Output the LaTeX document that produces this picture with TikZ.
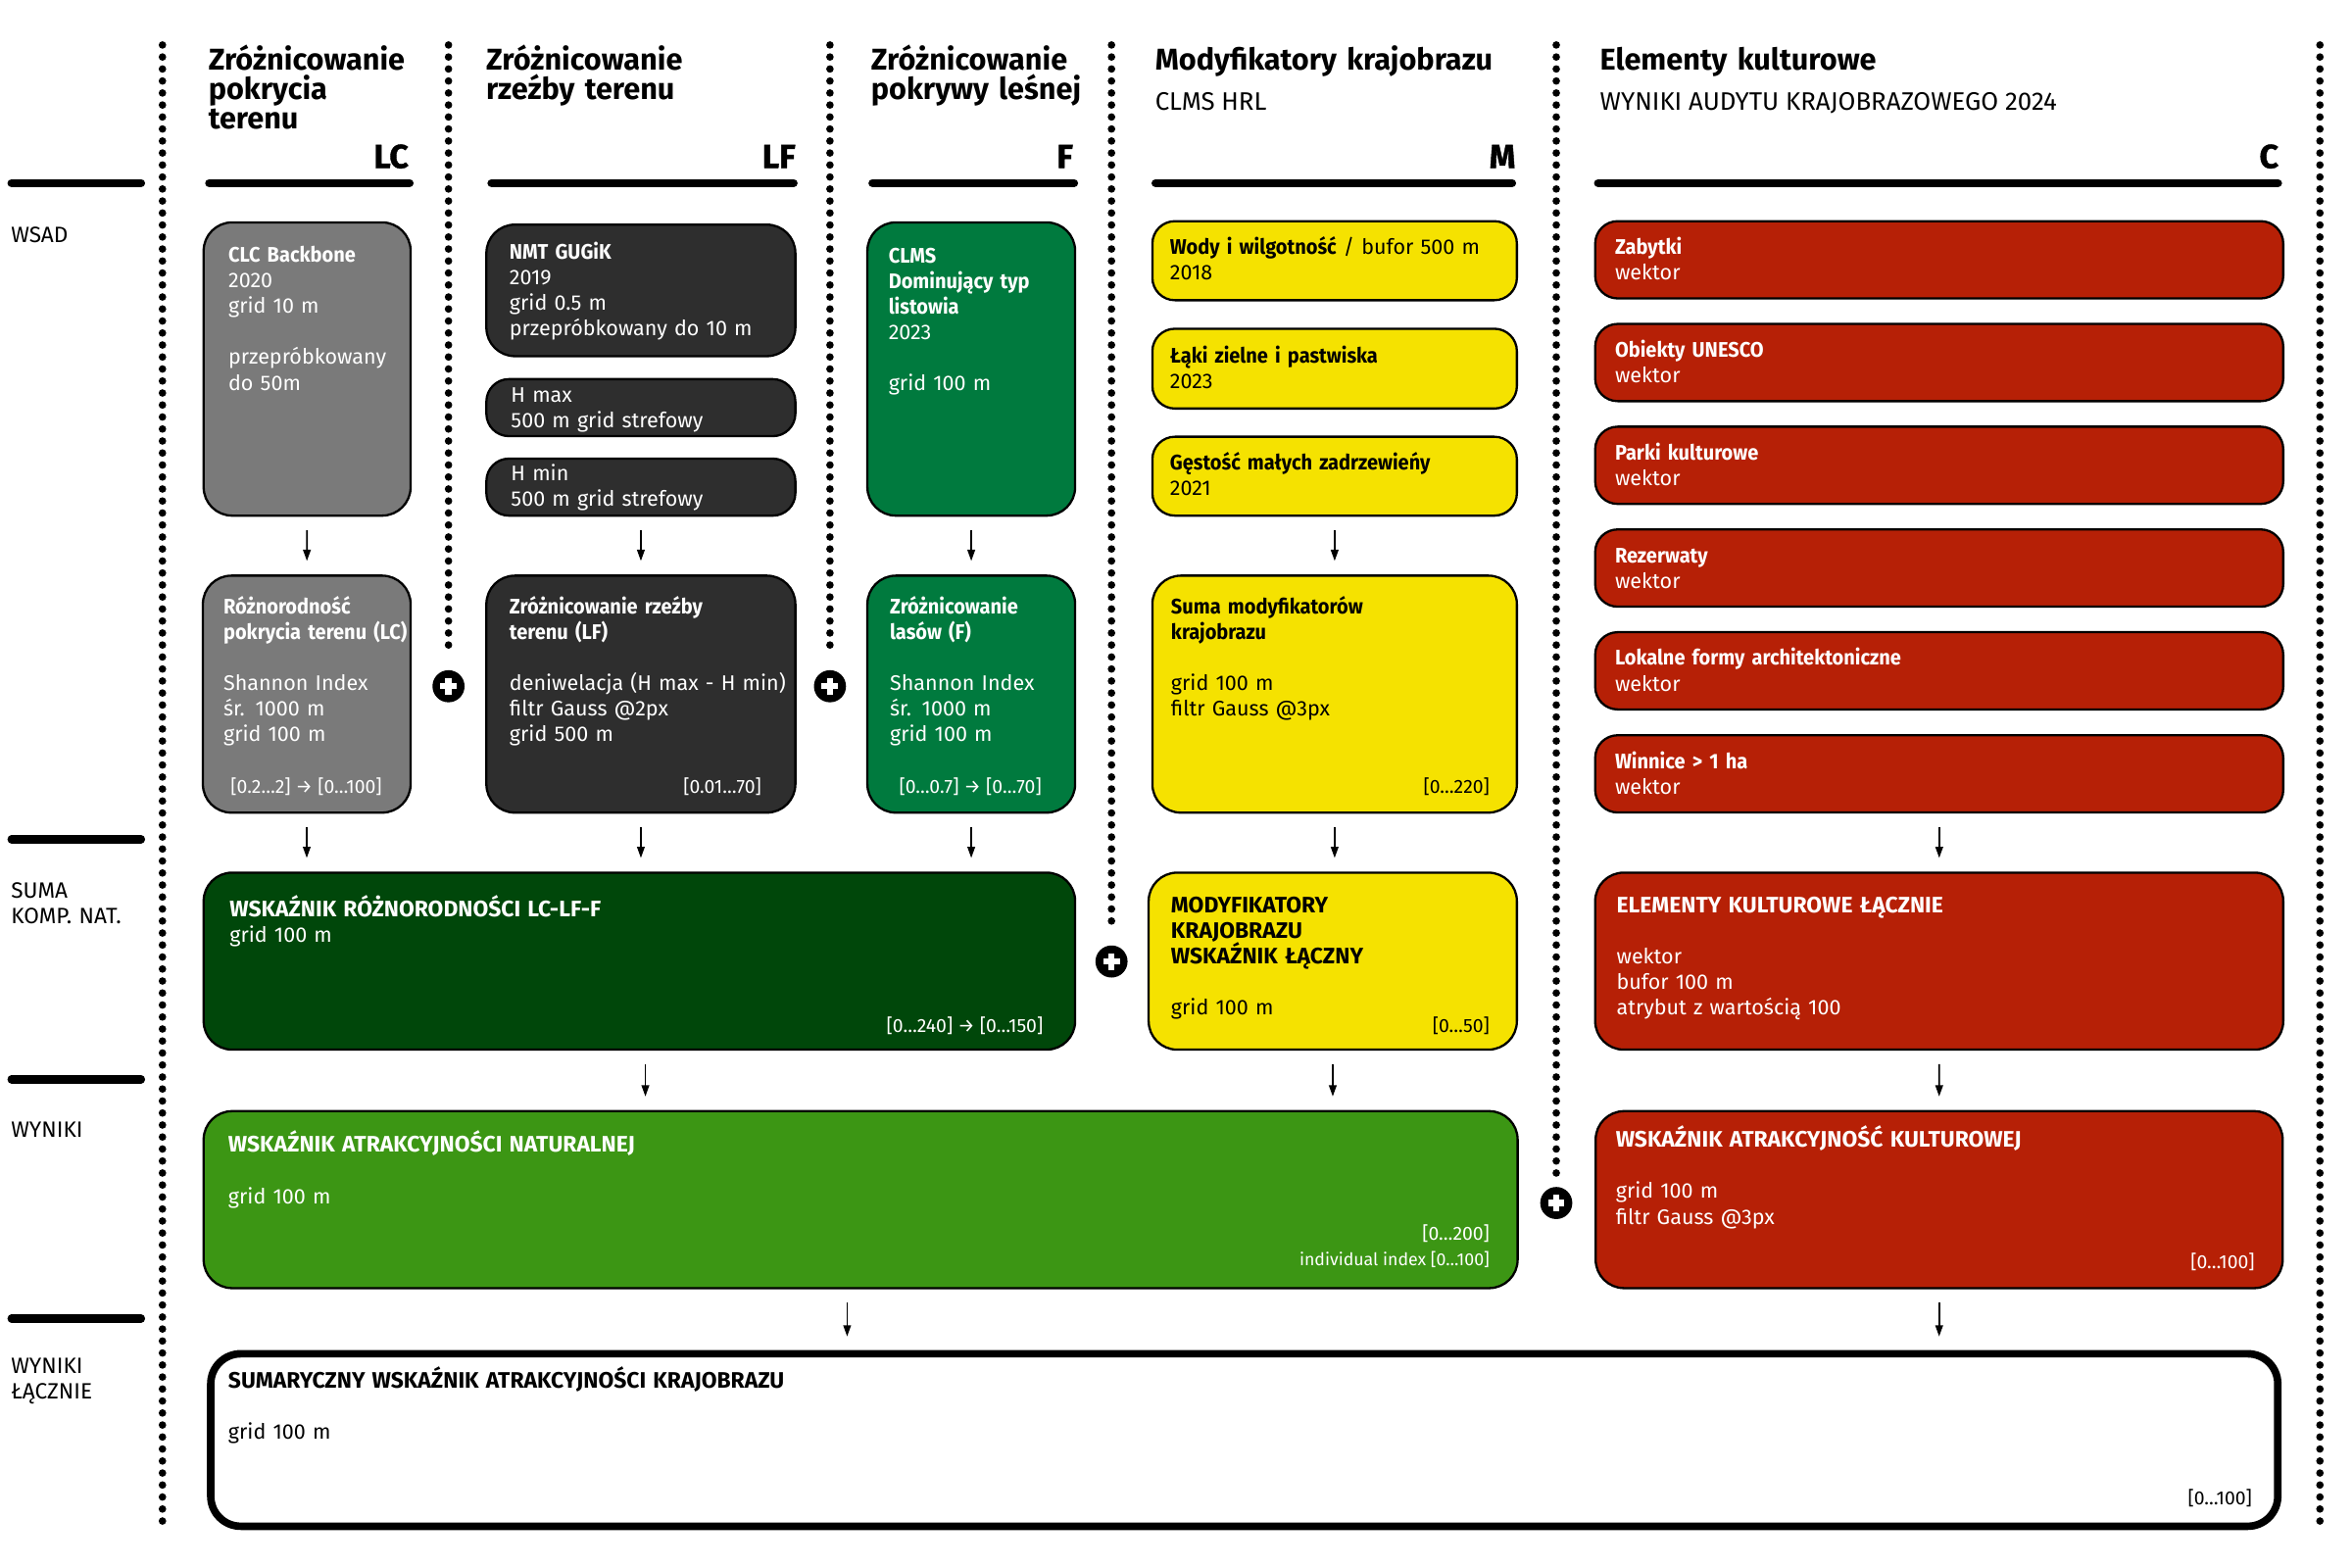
\documentclass[tikz,border=0pt]{standalone}
\usepackage{fontspec}
\setmainfont{Fira Sans}[BoldFeatures={FakeStretch=0.93}]
\newfontfamily\headfamily{Fira Sans}
\newfontfamily\heavyfamily{Fira Sans}[BoldFeatures={FakeBold=1.2}]
\usetikzlibrary{arrows.meta}

\definecolor{lcgray}{RGB}{122,122,122}
\definecolor{lfdark}{RGB}{46,46,46}
\definecolor{fgreen}{RGB}{0,122,62}
\definecolor{sumgreen}{RGB}{0,71,10}
\definecolor{myellow}{RGB}{245,226,0}
\definecolor{cred}{RGB}{182,32,6}
\definecolor{natgreen}{RGB}{60,150,20}

\newcommand{\fbody}{\fontsize{4}{4.84}\selectfont}
\newcommand{\frange}{\fontsize{3.6}{4.84}\selectfont}
\newcommand{\fhead}{\headfamily\fontsize{5.7}{5.55}\selectfont\bfseries}
\newcommand{\fbig}{\heavyfamily\fontsize{6.3}{6.3}\selectfont\bfseries}
\newcommand{\fsub}{\fontsize{4.8}{5}\selectfont}
\newcommand{\uctitle}[1]{{\headfamily\fontsize{4.25}{4.84}\selectfont\bfseries #1}}

\begin{document}
\begin{tikzpicture}[
  box/.style={draw=black, line width=0.15mm, rounded corners=1.9mm, fill=#1,
              anchor=north west, inner sep=0pt},
  small/.style={rounded corners=1.5mm},
  txt/.style={anchor=base west, inner sep=0pt, text width=8cm, align=left,
              font=\fbody, text=#1},
  txt/.default=white,
  rng/.style={anchor=base east, inner sep=0pt, font=\frange, text=#1},
  rng/.default=white,
  head/.style={anchor=base west, inner sep=0pt, text width=4cm, align=left, font=\fhead},
  big/.style={anchor=base east, inner sep=0pt, font=\fbig},
  side/.style={anchor=base west, inner sep=0pt, text width=2cm, align=left,
               font=\fontsize{4.2}{4.84}\selectfont},
  arrow/.style={-{Triangle[length=0.75mm,width=0.5mm]}, line width=0.12mm,
                shorten <=0.9mm, shorten >=0.9mm},
  dotline/.style={line width=0.5mm, line cap=round, dash pattern=on 0pt off 0.8mm},
  hline/.style={line width=0.55mm, line cap=round},
  plus/.style={circle, fill=black, minimum size=2.14mm, inner sep=0pt,
    path picture={\draw[white, line width=0.42mm]
      ([xshift=-0.55mm]path picture bounding box.center) -- ([xshift=0.55mm]path picture bounding box.center)
      ([yshift=-0.55mm]path picture bounding box.center) -- ([yshift=0.55mm]path picture bounding box.center);}}
]
  \useasboundingbox (0,0) rectangle (15.68,-10.45);

  % separators
  \draw[dotline] (1.083,-0.30) -- (1.083,-10.19);
  \draw[dotline] (2.99,-0.30) -- (2.99,-4.36);
  \draw[dotline] (5.533,-0.30) -- (5.533,-4.36);
  \draw[dotline] (7.41,-0.30) -- (7.41,-6.20);
  \draw[dotline] (10.375,-0.30) -- (10.375,-7.82);
  \draw[dotline] (15.466,-0.30) -- (15.466,-10.19);

  \draw[hline] (0.077,-1.22) -- (0.94,-1.22);
  \draw[hline] (0.077,-5.595) -- (0.94,-5.595);
  \draw[hline] (0.077,-7.195) -- (0.94,-7.195);
  \draw[hline] (0.077,-8.79) -- (0.94,-8.79);
  \draw[hline] (1.395,-1.22) -- (2.73,-1.22);
  \draw[hline] (3.277,-1.22) -- (5.29,-1.22);
  \draw[hline] (5.817,-1.22) -- (7.16,-1.22);
  \draw[hline] (7.704,-1.22) -- (10.08,-1.22);
  \draw[hline] (10.654,-1.22) -- (15.186,-1.22);

  % row labels
  \node[side] (lwsad) at (0.067,-1.616) {WSAD};
  \node[side] (lsuma) at (0.067,-5.99)  {SUMA\\KOMP. NAT.};
  \node[side] (lwyn)  at (0.067,-7.58)  {WYNIKI};
  \node[side] (lwynl) at (0.067,-9.158) {WYNIKI\\ŁĄCZNIE};

  % column headers
  \node[head] (hlc) at (1.383,-0.47) {Zróżnicowanie\\pokrycia\\terenu};
  \node[head] (hlf) at (3.234,-0.47) {Zróżnicowanie\\rzeźby terenu};
  \node[head] (hf)  at (5.80,-0.47)  {Zróżnicowanie\\pokrywy leśnej};
  \node[head] (hm)  at (7.694,-0.47) {Modyfikatory krajobrazu};
  \node[head, text width=6cm] (hc) at (10.66,-0.47) {Elementy kulturowe};
  \node[anchor=base west, inner sep=0pt, font=\fsub] (hmsub) at (7.694,-0.734) {CLMS HRL};
  \node[anchor=base west, inner sep=0pt, font=\fsub] (hcsub) at (10.66,-0.734) {WYNIKI AUDYTU KRAJOBRAZOWEGO 2024};
  \node[big] (klc) at (2.73,-1.12)  {LC};
  \node[big] (klf) at (5.31,-1.12)  {LF};
  \node[big] (kf)  at (7.16,-1.12)  {F};
  \node[big] (km)  at (10.11,-1.12) {M};
  \node[big] (kc)  at (15.197,-1.12) {C};

  % LC column
  \node[box=lcgray, minimum width=1.38cm, minimum height=1.955cm] (lcin) at (1.35,-1.475) {};
  \node[txt] (tlcin) at (1.516,-1.75) {\textbf{CLC Backbone}\\2020\\grid 10 m\\[1.7mm]przepróbkowany\\do 50m};
  \node[box=lcgray, minimum width=1.385cm, minimum height=1.58cm] (lcdiv) at (1.345,-3.83) {};
  \node[txt] (tlcdiv) at (1.483,-4.093) {\textbf{Różnorodność}\\\textbf{pokrycia terenu (LC)}\\[1.67mm]Shannon Index\\śr. 1000 m\\grid 100 m};
  \node[rng] (rlcdiv) at (2.553,-5.29) {[0.2…2] → [0…100]};

  % LF column
  \node[box=lfdark, minimum width=2.06cm, minimum height=0.877cm] (lfin) at (3.235,-1.49) {};
  \node[txt] (tlfin) at (3.39,-1.73) {\textbf{NMT GUGiK}\\2019\\grid 0.5 m\\przepróbkowany do 10 m};
  \node[box=lfdark, small, minimum width=2.06cm, minimum height=0.38cm] (lfmax) at (3.235,-2.52) {};
  \node[txt] (tlfmax) at (3.40,-2.68) {H max\\500 m grid strefowy};
  \node[box=lfdark, small, minimum width=2.06cm, minimum height=0.38cm] (lfmin) at (3.235,-3.05) {};
  \node[txt] (tlfmin) at (3.40,-3.205) {H min\\500 m grid strefowy};
  \node[box=lfdark, minimum width=2.06cm, minimum height=1.58cm] (lfdiv) at (3.235,-3.83) {};
  \node[txt] (tlfdiv) at (3.39,-4.093) {\textbf{Zróżnicowanie rzeźby}\\\textbf{terenu (LF)}\\[1.67mm]deniwelacja (H max - H min)\\filtr Gauss @2px\\grid 500 m};
  \node[rng] (rlfdiv) at (5.083,-5.29) {[0.01…70]};

  % F column
  \node[box=fgreen, minimum width=1.385cm, minimum height=1.955cm] (fin) at (5.775,-1.475) {};
  \node[txt] (tfin) at (5.917,-1.754) {\textbf{CLMS}\\\textbf{Dominujący typ}\\\textbf{listowia}\\2023\\[1.7mm]grid 100 m};
  \node[box=fgreen, minimum width=1.385cm, minimum height=1.58cm] (fdiv) at (5.775,-3.83) {};
  \node[txt] (tfdiv) at (5.926,-4.093) {\textbf{Zróżnicowanie}\\\textbf{lasów (F)}\\[1.67mm]Shannon Index\\śr. 1000 m\\grid 100 m};
  \node[rng] (rfdiv) at (6.95,-5.29) {[0…0.7] → [0…70]};

  % LC-LF-F sum
  \node[box=sumgreen, minimum width=5.81cm, minimum height=1.18cm] (divall) at (1.35,-5.81) {};
  \node[txt] (tdivall) at (1.524,-6.11) {\uctitle{WSKAŹNIK RÓŻNORODNOŚCI LC-LF-F}\\grid 100 m};
  \node[rng] (rdivall) at (6.96,-6.885) {[0…240] → [0…150]};

  % M column
  \node[box=myellow, small, minimum width=2.43cm, minimum height=0.527cm] (m1) at (7.675,-1.467) {};
  \node[txt=black] (tm1) at (7.793,-1.696) {\textbf{Wody i wilgotność} / bufor 500 m\\2018};
  \node[box=myellow, small, minimum width=2.43cm, minimum height=0.532cm] (m2) at (7.675,-2.184) {};
  \node[txt=black] (tm2) at (7.793,-2.418) {\textbf{Łąki zielne i pastwiska}\\2023};
  \node[box=myellow, small, minimum width=2.43cm, minimum height=0.526cm] (m3) at (7.675,-2.904) {};
  \node[txt=black] (tm3) at (7.793,-3.134) {\textbf{Gęstość małych zadrzewieńy}\\2021};
  \node[box=myellow, minimum width=2.43cm, minimum height=1.58cm] (msum) at (7.675,-3.83) {};
  \node[txt=black] (tmsum) at (7.80,-4.093) {\textbf{Suma modyfikatorów}\\\textbf{krajobrazu}\\[1.67mm]grid 100 m\\filtr Gauss @3px};
  \node[rng=black] (rmsum) at (9.937,-5.29) {[0…220]};
  \node[box=myellow, minimum width=2.455cm, minimum height=1.18cm] (mall) at (7.65,-5.81) {};
  \node[txt=black] (tmall) at (7.80,-6.088) {\uctitle{MODYFIKATORY}\\\uctitle{KRAJOBRAZU}\\\uctitle{WSKAŹNIK ŁĄCZNY}\\[1.7mm]grid 100 m};
  \node[rng=black] (rmall) at (9.937,-6.885) {[0…50]};

  % C column
  \node[box=cred, small, minimum width=4.587cm, minimum height=0.515cm] (c1) at (10.627,-1.467) {};
  \node[txt] (tc1) at (10.76,-1.696) {\textbf{Zabytki}\\wektor};
  \node[box=cred, small, minimum width=4.587cm, minimum height=0.515cm] (c2) at (10.627,-2.152) {};
  \node[txt] (tc2) at (10.76,-2.381) {\textbf{Obiekty UNESCO}\\wektor};
  \node[box=cred, small, minimum width=4.587cm, minimum height=0.515cm] (c3) at (10.627,-2.837) {};
  \node[txt] (tc3) at (10.76,-3.066) {\textbf{Parki kulturowe}\\wektor};
  \node[box=cred, small, minimum width=4.587cm, minimum height=0.515cm] (c4) at (10.627,-3.522) {};
  \node[txt] (tc4) at (10.76,-3.751) {\textbf{Rezerwaty}\\wektor};
  \node[box=cred, small, minimum width=4.587cm, minimum height=0.515cm] (c5) at (10.627,-4.207) {};
  \node[txt] (tc5) at (10.76,-4.436) {\textbf{Lokalne formy architektoniczne}\\wektor};
  \node[box=cred, small, minimum width=4.587cm, minimum height=0.515cm] (c6) at (10.627,-4.894) {};
  \node[txt] (tc6) at (10.76,-5.123) {\textbf{Winnice > 1 ha}\\wektor};
  \node[box=cred, minimum width=4.587cm, minimum height=1.18cm] (call) at (10.627,-5.81) {};
  \node[txt] (tcall) at (10.77,-6.088) {\uctitle{ELEMENTY KULTUROWE ŁĄCZNIE}\\[1.7mm]wektor\\bufor 100 m\\atrybut z wartością 100};

  % results
  \node[box=natgreen, minimum width=8.76cm, minimum height=1.18cm] (nat) at (1.35,-7.40) {};
  \node[txt] (tnat) at (1.515,-7.683) {\uctitle{WSKAŹNIK ATRAKCYJNOŚCI NATURALNEJ}\\[1.7mm]grid 100 m};
  \node[rng] (rnat) at (9.937,-8.265) {[0…200]};
  \node[rng, font=\fontsize{3.3}{4}\selectfont] (rnatind) at (9.937,-8.44) {individual index [0…100]};
  \node[box=cred, minimum width=4.58cm, minimum height=1.18cm] (cres) at (10.63,-7.40) {};
  \node[txt] (tcres) at (10.765,-7.65) {\uctitle{WSKAŹNIK ATRAKCYJNOŚĆ KULTUROWEJ}\\[1.7mm]grid 100 m\\filtr Gauss @3px};
  \node[rng] (rcres) at (15.038,-8.454) {[0…100]};

  % total
  \node[box=white, line width=0.5mm, rounded corners=2mm, minimum width=13.78cm, minimum height=1.15cm] (sum) at (1.38,-9.00) {};
  \node[txt=black] (tsum) at (1.515,-9.256) {\uctitle{SUMARYCZNY WSKAŹNIK ATRAKCYJNOŚCI KRAJOBRAZU}\\[1.7mm]grid 100 m};
  \node[rng=black] (rsum) at (15.02,-10.03) {[0…100]};

  % plus signs
  \node[plus] (p1) at (2.99,-4.575) {};
  \node[plus] (p2) at (5.533,-4.575) {};
  \node[plus] (p3) at (7.41,-6.41) {};
  \node[plus] (p4) at (10.375,-8.02) {};

  % flow
  \draw[arrow] (lcin) -- (lcdiv);
  \draw[arrow] (lfmin.south) -- (lfdiv.north);
  \draw[arrow] (fin) -- (fdiv);
  \draw[arrow] (m3.south) -- (msum.north);
  \draw[arrow] (lcdiv.south) -- (lcdiv.south |- divall.north);
  \draw[arrow] (lfdiv.south) -- (lfdiv.south |- divall.north);
  \draw[arrow] (fdiv.south) -- (fdiv.south |- divall.north);
  \draw[arrow] (msum.south) -- (msum.south |- mall.north);
  \draw[arrow] (c6.south) -- (call.north);
  \draw[arrow] ([xshift=0.4mm]divall.south) -- ([xshift=0.4mm]divall.south |- nat.north);
  \draw[arrow] (mall.south) -- (mall.south |- nat.north);
  \draw[arrow] (call.south) -- (cres.north);
  \draw[arrow] ([xshift=-0.9mm]nat.south) -- ([xshift=-0.9mm]nat.south |- sum.north);
  \draw[arrow] (cres.south) -- (cres.south |- sum.north);
\end{tikzpicture}
\end{document}
